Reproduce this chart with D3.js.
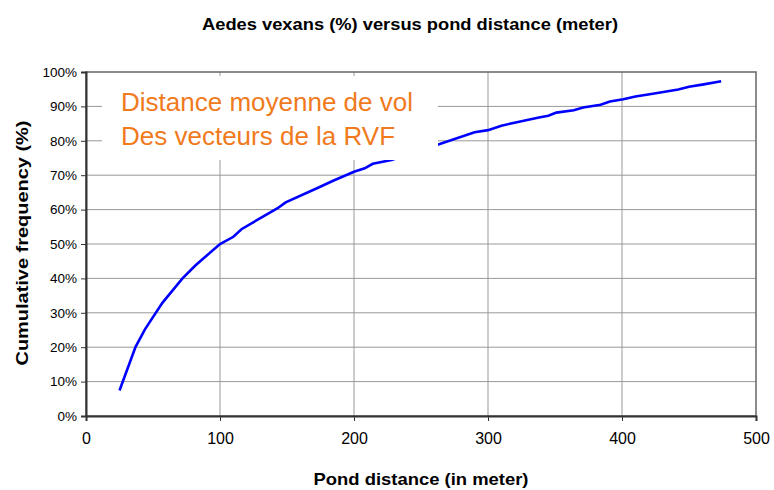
<!DOCTYPE html>
<html>
<head>
  <meta charset="utf-8">
  <script src="https://cdnjs.cloudflare.com/ajax/libs/d3/7.8.5/d3.min.js"></script>
  <title>Aedes vexans</title>
  <style>
    body { margin: 0; background: #fff; }
    text { font-family: "Liberation Sans", Arial, sans-serif; }
  </style>
</head>
<body>
<script>
// pond distance (m) and cumulative frequency (%)
var distance = [25, 37, 44, 57, 72, 82, 100, 110, 116, 134, 143, 149, 174, 184, 200, 208, 214, 228,
  240, 252, 264, 290, 300, 310, 318, 338, 345, 351, 364, 371, 384, 391, 401, 410, 423, 442, 450, 461, 474];
var frequency = [7.4, 20.1, 25.2, 32.9, 40.0, 43.9, 50.0, 52.1, 54.3, 58.4, 60.4, 62.1, 66.5, 68.3, 71.0, 72.0, 73.3, 74.4,
  76.0, 77.6, 79.1, 82.5, 83.1, 84.4, 85.1, 86.8, 87.3, 88.2, 88.9, 89.7, 90.5, 91.4, 92.1, 92.9, 93.7, 94.9, 95.7, 96.4, 97.3];
var xTicks = [0, 100, 200, 300, 400, 500];
var yTicks = [0, 10, 20, 30, 40, 50, 60, 70, 80, 90, 100];
var note = ["Distance moyenne de vol", "Des vecteurs de la RVF"];

var W = 774, H = 490;
var m = {left: 86, right: 18, top: 72, bottom: 74};

var svg = d3.select("body").append("svg")
  .attr("width", W)
  .attr("height", H);

var x = d3.scaleLinear().domain([0, 500]).range([m.left, W - m.right]);
var y = d3.scaleLinear().domain([0, 100]).range([H - m.bottom, m.top]);

// grid
svg.append("g").selectAll("line.gx").data(xTicks.slice(1, -1)).enter().append("line")
  .attr("x1", function(d) { return x(d); }).attr("x2", function(d) { return x(d); })
  .attr("y1", y(0)).attr("y2", y(100))
  .attr("stroke", "#999").attr("stroke-width", 1);
svg.append("g").selectAll("line.gy").data(yTicks.slice(1, -1)).enter().append("line")
  .attr("y1", function(d) { return y(d); }).attr("y2", function(d) { return y(d); })
  .attr("x1", x(0)).attr("x2", x(500))
  .attr("stroke", "#999").attr("stroke-width", 1);

// frame
svg.append("rect")
  .attr("x", x(0)).attr("y", y(100))
  .attr("width", x(500) - x(0)).attr("height", y(0) - y(100))
  .attr("fill", "none").attr("stroke", "#666").attr("stroke-width", 1.5);

// curve
var pts = distance.map(function(d, i) { return [d, frequency[i]]; });
svg.append("path")
  .datum(pts)
  .attr("fill", "none")
  .attr("stroke", "#0000ff")
  .attr("stroke-width", 2.6)
  .attr("d", d3.line().x(function(d) { return x(d[0]); }).y(function(d) { return y(d[1]); }));

// axes
var xAxis = svg.append("g")
  .attr("transform", "translate(0," + y(0) + ")")
  .call(d3.axisBottom(x).tickValues(xTicks).tickSize(5).tickPadding(12).tickFormat(d3.format("d")));
var yAxis = svg.append("g")
  .attr("transform", "translate(" + x(0) + ",0)")
  .call(d3.axisLeft(y).tickValues(yTicks).tickSize(5).tickPadding(4).tickFormat(function(d) { return d + "%"; }));
[xAxis, yAxis].forEach(function(a) {
  a.select(".domain").attr("stroke", "#333").attr("stroke-width", 2);
  a.selectAll(".tick line").attr("stroke", "#333");
  a.selectAll("text").attr("fill", "#000").style("font-family", "'Liberation Sans', Arial, sans-serif");
});
xAxis.selectAll("text").style("font-size", "16px");
yAxis.selectAll("text").style("font-size", "13.5px");

// annotation box
svg.append("rect")
  .attr("x", 102).attr("y", 76).attr("width", 336).attr("height", 84)
  .attr("fill", "#fff");
svg.append("g").selectAll("text").data(note).enter().append("text")
  .attr("x", 121)
  .attr("y", function(d, i) { return 111 + i * 34; })
  .attr("fill", "#f07a1c")
  .style("font-size", "26px")
  .text(function(d) { return d; });

// titles
svg.append("text")
  .attr("x", 410).attr("y", 30)
  .attr("text-anchor", "middle")
  .attr("textLength", 416).attr("lengthAdjust", "spacingAndGlyphs")
  .style("font-size", "16.5px").style("font-weight", "bold")
  .text("Aedes vexans (%) versus pond distance (meter)");
svg.append("text")
  .attr("x", 421).attr("y", 485)
  .attr("text-anchor", "middle")
  .attr("textLength", 215).attr("lengthAdjust", "spacingAndGlyphs")
  .style("font-size", "17px").style("font-weight", "bold")
  .text("Pond distance (in meter)");
svg.append("text")
  .attr("transform", "translate(28,243) rotate(-90)")
  .attr("text-anchor", "middle")
  .attr("textLength", 245).attr("lengthAdjust", "spacingAndGlyphs")
  .style("font-size", "17px").style("font-weight", "bold")
  .text("Cumulative frequency (%)");
</script>
</body>
</html>
